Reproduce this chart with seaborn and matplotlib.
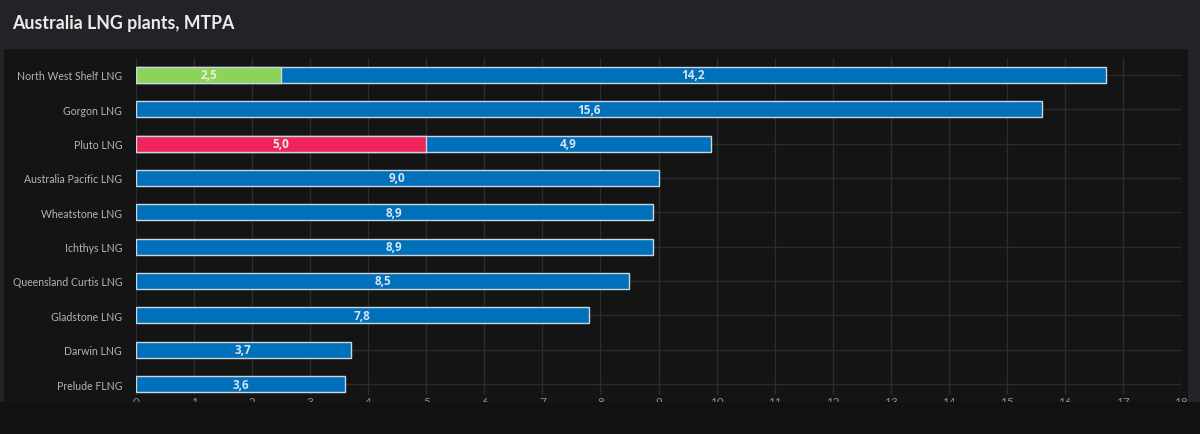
import pandas as pd
import numpy as np
import matplotlib.pyplot as plt
import seaborn as sns
from matplotlib.patches import Rectangle


plants = ["North West Shelf LNG", "Gorgon LNG", "Pluto LNG", "Australia Pacific LNG",
          "Wheatstone LNG", "Ichthys LNG", "Queensland Curtis LNG", "Gladstone LNG",
          "Darwin LNG", "Prelude FLNG"]
front_vals = [2.5, 0.0, 5.0, 0.0, 0.0, 0.0, 0.0, 0.0, 0.0, 0.0]
main_vals = [14.2, 15.6, 4.9, 9.0, 8.9, 8.9, 8.5, 7.8, 3.7, 3.6]
front_colors = {"North West Shelf LNG": "#8bd457", "Pluto LNG": "#ef2458"}
x_ticks = list(range(0, 19))

BLUE = "#0070ba"
EDGE = "#c9d6e0"
FIG_BG = "#222326"
PANEL_BG = "#141414"

df = pd.DataFrame({"plant": plants, "front": front_vals, "main": main_vals})
df["total"] = df["front"] + df["main"]
front_df = df[df["front"] > 0]

sns.set_theme(style="dark")
plt.rcParams["font.family"] = ["Lato", "DejaVu Sans"]

fig = plt.figure(figsize=(12, 4.35), dpi=100, facecolor=FIG_BG)
# panel behind the chart
fig.patches.append(Rectangle((4 / 1200, 32 / 435), 1184 / 1200, 1 - 50 / 435 - 32 / 435,
                             transform=fig.transFigure, facecolor=PANEL_BG,
                             edgecolor="none", zorder=-5))
ax = fig.add_axes([136 / 1200, 1 - 396 / 435, (1181 - 136) / 1200, (396 - 58.8) / 435])
ax.set_facecolor(PANEL_BG)

sns.barplot(data=df, x="total", y="plant", order=plants, color=BLUE, saturation=1,
            width=0.47, edgecolor=EDGE, linewidth=1, ax=ax, zorder=3)
sns.barplot(data=front_df, x="front", y="plant", order=plants, hue="plant",
            palette=front_colors, saturation=1, width=0.47, edgecolor=EDGE,
            linewidth=1, legend=False, ax=ax, zorder=4)

label_font = dict(family=["Open Sans", "DejaVu Sans"], fontsize=8.5, fontweight="bold")
for i, row in df.iterrows():
    ax.text(row["front"] + row["main"] / 2, i, f"{row['main']:.1f}".replace(".", ","),
            ha="center", va="center", color="#d5e4f0", zorder=6, **label_font)
    if row["front"] > 0:
        ax.text(row["front"] / 2, i, f"{row['front']:.1f}".replace(".", ","),
                ha="center", va="center", color="#e6f0e0", zorder=6, **label_font)

ax.set_xlim(0, 18)
ax.set_ylim(9.32, -0.5)
ax.set_xticks(x_ticks)
ax.set_xticklabels([str(t) for t in x_ticks])
ax.set_xlabel("")
ax.set_ylabel("")
ax.grid(True, color="#2c2c2c", linewidth=1, zorder=0)
ax.set_axisbelow(True)
for s in ax.spines.values():
    s.set_visible(False)
ax.tick_params(axis="x", length=0, pad=0.5, labelsize=8.5, labelcolor="#8c8c8c")
ax.tick_params(axis="y", length=0, pad=10, labelsize=7.6, labelcolor="#b4b4b4")

fig.text(12 / 1200, 1 - 29 / 435, "Australia LNG plants, MTPA", fontsize=12.8,
         color="#ebebeb", fontweight="bold", ha="left", va="baseline")

# bottom strip that cuts the tick labels
fig.patches.append(Rectangle((0, 0), 1, 32 / 435, transform=fig.transFigure,
                             facecolor="#111111", edgecolor="none", zorder=10))

fig.savefig("out.png", dpi=100, facecolor=FIG_BG)
